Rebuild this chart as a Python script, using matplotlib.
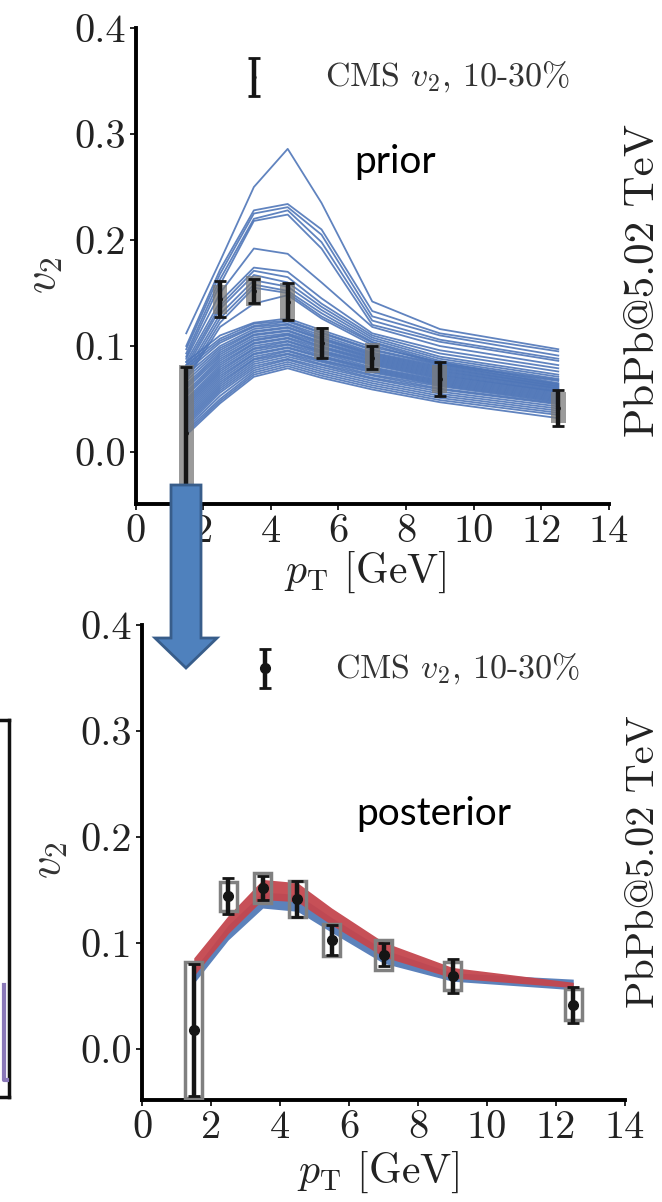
import matplotlib
matplotlib.use('Agg')
import matplotlib.pyplot as plt
from matplotlib.patches import Rectangle, Polygon
from matplotlib.lines import Line2D
from matplotlib.ticker import FormatStrFormatter

plt.rcParams['font.family'] = ['cmr10', 'DejaVu Serif']
plt.rcParams['mathtext.fontset'] = 'cm'
plt.rcParams['axes.unicode_minus'] = False

# CMS v2 data, 10-30%
pt = [1.5, 2.5, 3.5, 4.5, 5.5, 7.0, 9.0, 12.5]
v2 = [0.018, 0.144, 0.152, 0.142, 0.103, 0.089, 0.069, 0.042]
v2_stat = [0.062, 0.017, 0.011, 0.017, 0.014, 0.011, 0.016, 0.017]
v2_sys = [0.064, 0.014, 0.014, 0.017, 0.015, 0.014, 0.013, 0.015]

# prior model curves (same pT grid)
prior_curves = [
    [0.112, 0.180, 0.250, 0.286, 0.235, 0.142, 0.116, 0.097],
    [0.100, 0.172, 0.228, 0.234, 0.210, 0.133, 0.112, 0.095],
    [0.097, 0.168, 0.225, 0.231, 0.205, 0.128, 0.110, 0.091],
    [0.093, 0.163, 0.220, 0.228, 0.198, 0.124, 0.106, 0.088],
    [0.090, 0.158, 0.218, 0.224, 0.192, 0.120, 0.104, 0.086],
    [0.088, 0.150, 0.192, 0.187, 0.160, 0.118, 0.100, 0.082],
    [0.085, 0.142, 0.174, 0.170, 0.145, 0.112, 0.096, 0.079],
    [0.082, 0.138, 0.171, 0.165, 0.140, 0.110, 0.093, 0.076],
    [0.079, 0.135, 0.167, 0.160, 0.137, 0.108, 0.090, 0.073],
    [0.076, 0.130, 0.162, 0.156, 0.134, 0.106, 0.088, 0.071],
    [0.073, 0.126, 0.158, 0.152, 0.131, 0.104, 0.086, 0.069],
    [0.070, 0.122, 0.155, 0.150, 0.128, 0.103, 0.084, 0.068],
    [0.068, 0.118, 0.140, 0.148, 0.126, 0.101, 0.083, 0.067],
    [0.085, 0.110, 0.122, 0.126, 0.115, 0.099, 0.085, 0.065],
    [0.082, 0.107, 0.121, 0.124, 0.113, 0.097, 0.083, 0.064],
    [0.079, 0.105, 0.119, 0.123, 0.112, 0.096, 0.082, 0.064],
    [0.076, 0.103, 0.118, 0.121, 0.110, 0.094, 0.081, 0.063],
    [0.073, 0.100, 0.116, 0.120, 0.108, 0.093, 0.080, 0.062],
    [0.070, 0.098, 0.114, 0.118, 0.107, 0.092, 0.079, 0.062],
    [0.067, 0.096, 0.113, 0.117, 0.106, 0.091, 0.078, 0.061],
    [0.064, 0.094, 0.111, 0.115, 0.104, 0.090, 0.077, 0.060],
    [0.062, 0.092, 0.110, 0.114, 0.103, 0.089, 0.076, 0.060],
    [0.060, 0.090, 0.108, 0.112, 0.102, 0.088, 0.075, 0.059],
    [0.057, 0.088, 0.106, 0.111, 0.100, 0.087, 0.074, 0.058],
    [0.055, 0.086, 0.105, 0.110, 0.099, 0.086, 0.073, 0.057],
    [0.053, 0.084, 0.103, 0.108, 0.098, 0.085, 0.072, 0.057],
    [0.050, 0.082, 0.102, 0.107, 0.096, 0.084, 0.071, 0.056],
    [0.048, 0.080, 0.100, 0.105, 0.095, 0.083, 0.070, 0.055],
    [0.046, 0.078, 0.098, 0.104, 0.094, 0.082, 0.069, 0.054],
    [0.044, 0.076, 0.097, 0.102, 0.093, 0.080, 0.068, 0.053],
    [0.042, 0.074, 0.095, 0.101, 0.091, 0.079, 0.067, 0.052],
    [0.040, 0.072, 0.093, 0.099, 0.090, 0.078, 0.066, 0.051],
    [0.038, 0.070, 0.092, 0.098, 0.089, 0.077, 0.065, 0.050],
    [0.036, 0.068, 0.090, 0.096, 0.087, 0.076, 0.064, 0.049],
    [0.034, 0.066, 0.088, 0.095, 0.086, 0.075, 0.063, 0.048],
    [0.032, 0.064, 0.087, 0.093, 0.085, 0.073, 0.062, 0.047],
    [0.030, 0.062, 0.085, 0.092, 0.083, 0.072, 0.060, 0.046],
    [0.028, 0.060, 0.083, 0.090, 0.082, 0.070, 0.059, 0.045],
    [0.026, 0.058, 0.081, 0.088, 0.080, 0.069, 0.057, 0.043],
    [0.024, 0.056, 0.079, 0.087, 0.078, 0.067, 0.055, 0.041],
    [0.022, 0.053, 0.077, 0.085, 0.076, 0.065, 0.053, 0.039],
    [0.020, 0.050, 0.075, 0.083, 0.074, 0.063, 0.051, 0.037],
    [0.018, 0.048, 0.073, 0.081, 0.072, 0.061, 0.049, 0.035],
    [0.016, 0.046, 0.071, 0.079, 0.070, 0.059, 0.047, 0.032],
]

# posterior bands
post_blue_lo = [0.062, 0.103, 0.133, 0.130, 0.110, 0.081, 0.064, 0.056]
post_blue_hi = [0.075, 0.117, 0.148, 0.146, 0.124, 0.094, 0.072, 0.066]
post_red_lo = [0.069, 0.109, 0.141, 0.139, 0.117, 0.087, 0.067, 0.058]
post_red_hi = [0.086, 0.126, 0.160, 0.157, 0.133, 0.101, 0.077, 0.063]

W, H = 662, 1202
fig = plt.figure(figsize=(W / 100, H / 100), dpi=100)


def fx(px):
    return px / W


def fy(py):
    return 1 - py / H


ax1 = fig.add_axes([fx(135.5), fy(504), (609 - 135.5) / W, (504 - 28) / H])
ax2 = fig.add_axes([fx(142), fy(1100), (625 - 142) / W, (1100 - 625) / H])

for ax, ylo in [(ax1, -0.049), (ax2, -0.048)]:
    ax.set_xlim(0, 14)
    ax.set_ylim(ylo, 0.4)
    ax.spines['top'].set_visible(False)
    ax.spines['right'].set_visible(False)
    ax.spines['left'].set_linewidth(2.8)
    ax.spines['bottom'].set_linewidth(2.8)
    ax.set_xticks(range(0, 15, 2))
    ax.set_yticks([0.0, 0.1, 0.2, 0.3, 0.4])
    ax.yaxis.set_major_formatter(FormatStrFormatter('%.1f'))
    ax.tick_params(direction='out', length=4, width=1.2, labelsize=29,
                   pad=3, labelcolor='#222222')
    ax.patch.set_alpha(0)

# top: prior
for c in prior_curves:
    ax1.plot(pt, c, color='#4f76b8', lw=1.3, alpha=0.9, zorder=2)
for x, y, s in zip(pt, v2, v2_sys):
    ax1.add_patch(Rectangle((x - 0.22, y - s), 0.44, 2 * s, facecolor='#7a7a7a',
                            edgecolor='none', alpha=0.75, zorder=3))
ax1.errorbar(pt, v2, yerr=v2_stat, fmt='.', color='#151515', ms=5,
             elinewidth=3.2, capsize=4, capthick=2, zorder=4)
ax1.errorbar([3.5], [0.354], yerr=[0.018], fmt='.', color='#151515', ms=4,
             elinewidth=3.2, capsize=4, capthick=2, clip_on=False)
ax1.text(5.6, 0.354, r'CMS $v_2$, 10-30%', fontsize=24.5, va='center', color='#333333')
ax1.text(7.68, 0.263, 'prior', family='Lato', fontsize=28, ha='center', va='baseline')

# bottom: posterior
ax2.fill_between(pt, post_blue_lo, post_blue_hi, color='#4a74b4', alpha=0.9, lw=0, zorder=2)
ax2.fill_between(pt, post_red_lo, post_red_hi, color='#c4464e', alpha=0.95, lw=0, zorder=2)
for x, y, s in zip(pt, v2, v2_sys):
    ax2.add_patch(Rectangle((x - 0.25, y - s), 0.5, 2 * s, facecolor='none',
                            edgecolor='#808080', lw=2.5, zorder=3))
ax2.errorbar(pt, v2, yerr=v2_stat, fmt='o', color='#151515', ms=7,
             elinewidth=3.2, capsize=4, capthick=2, zorder=4)
ax2.errorbar([3.57], [0.359], yerr=[0.018], fmt='o', color='#151515', ms=7,
             elinewidth=3.2, capsize=4, capthick=2, clip_on=False)
ax2.text(5.6, 0.359, r'CMS $v_2$, 10-30%', fontsize=24.5, va='center', color='#333333')
ax2.text(8.46, 0.211, 'posterior', family='Lato', fontsize=28, ha='center', va='baseline')

# axis labels
fig.text(fx(45), fy(275), r'$v_2$', rotation=90, fontsize=32, ha='center', va='center', color='#333333')
fig.text(fx(50), fy(860), r'$v_2$', rotation=90, fontsize=32, ha='center', va='center', color='#333333')
fig.text(fx(365), fy(572), r'$p_{\rm T}$ [GeV]', fontsize=30, ha='center', va='center', color='#222222')
fig.text(fx(378), fy(1172), r'$p_{\rm T}$ [GeV]', fontsize=30, ha='center', va='center', color='#222222')
fig.text(fx(643), fy(280), 'PbPb@5.02 TeV', rotation=90, fontsize=31, ha='center', va='center', color='#222222')
fig.text(fx(644), fy(862), 'PbPb@5.02 TeV', rotation=90, fontsize=29, ha='center', va='center', color='#222222')

# fragment of a neighbouring panel on the left
for xs, ys in [([0, 9], [720, 720]), ([9, 9], [720, 1097]), ([0, 9], [1097, 1097])]:
    fig.add_artist(Line2D([fx(v) for v in xs], [fy(v) for v in ys], color='#111111', lw=2.5))
fig.add_artist(Line2D([fx(4), fx(4), fx(7)], [fy(985), fy(1080), fy(1080)], color='#8a78b8', lw=3))

# arrow prior -> posterior
arrow_px = [(171, 485), (201, 485), (201, 638), (217, 638), (186, 668), (155, 638), (171, 638)]
fig.add_artist(Polygon([(fx(a), fy(b)) for a, b in arrow_px], closed=True,
                       facecolor='#4f81bd', edgecolor='#385d8a', lw=2, zorder=10))

fig.savefig('out.png', dpi=100)
